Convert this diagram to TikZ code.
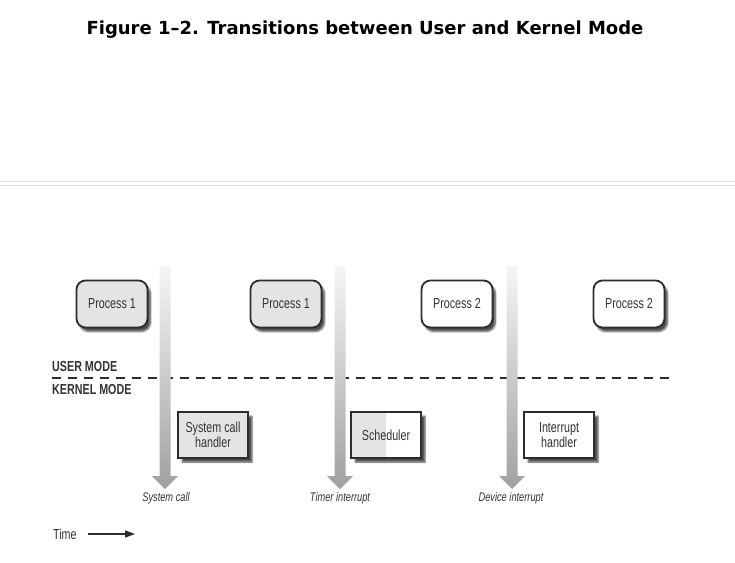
\documentclass[tikz,border=0pt]{standalone}
\usepackage{fontspec}
\usepackage{tikz}
\usetikzlibrary{positioning, arrows.meta, shadows.blur}
\newfontfamily\titlefont{DejaVu Sans}
\newfontfamily\condfont{Liberation Sans}[FakeStretch=0.74]
\definecolor{boxline}{RGB}{45,45,45}
\definecolor{boxgray}{RGB}{228,228,228}
\definecolor{arrowgray}{RGB}{160,160,160}
\tikzset{
  procbox/.style={
    rectangle, rounded corners=9pt, draw=boxline, line width=1.8pt,
    minimum width=71pt, minimum height=47pt, inner sep=2pt,
    font=\condfont\fontsize{14.5}{16}\selectfont, text=black!80,
    blur shadow={shadow xshift=3pt, shadow yshift=-4pt, shadow blur steps=6, shadow opacity=70}
  },
  kernbox/.style={
    rectangle, draw=boxline, line width=1.6pt,
    minimum width=70pt, minimum height=46pt, inner sep=2pt, align=center,
    font=\condfont\fontsize{14.5}{13.5}\selectfont, text=black!80,
    blur shadow={shadow xshift=4pt, shadow yshift=-4pt, shadow blur steps=4, shadow opacity=70}
  },
  modelabel/.style={anchor=west, inner sep=0pt, font=\condfont\bfseries\fontsize{14.5}{14}\selectfont, text=black!80},
  eventlabel/.style={inner sep=0pt, font=\condfont\itshape\fontsize{12.5}{12}\selectfont, text=black!80},
  bigarrow/.style={top color=arrowgray!10, bottom color=arrowgray},
}
\begin{document}
\begin{tikzpicture}[x=1pt, y=-1pt]
  \useasboundingbox (0,0) rectangle (735,562);
  \node[font=\titlefont\bfseries\fontsize{18}{18}\selectfont] (title) at (365,30)
    {Figure 1\textendash 2. Transitions between User and Kernel Mode};
  % page separator
  \draw[gray!25, line width=0.8pt] (0,181) -- (735,181);
  \draw[gray!25, line width=0.8pt] (0,185) -- (735,185);

  % mode boundary
  \node[modelabel] (user) at (52,367) {USER MODE};
  \node[modelabel] (kernel) at (52,390) {KERNEL MODE};
  \coordinate (dashL) at (52,378);
  \coordinate (dashR) at (669,378);
  \draw[boxline, line width=1.8pt, dash pattern=on 9pt off 7pt] (dashL) -- (dashR);

  % transitions
  \foreach \x in {165,340,512}
    \shade[bigarrow] (\x-5.5,266) -- (\x+5.5,266) -- (\x+5.5,476) -- (\x+13,476)
      -- (\x,489) -- (\x-13,476) -- (\x-5.5,476) -- cycle;
  \node[eventlabel] (syscall) at (166,498) {System call};
  \node[eventlabel] (timer) at (340,498) {Timer interrupt};
  \node[eventlabel] (device) at (511,498) {Device interrupt};

  % processes
  \node[procbox, fill=boxgray] (P1a) at (112,304) {Process 1};
  \node[procbox, fill=boxgray] (P1b) at (286,304) {Process 1};
  \node[procbox, fill=white] (P2a) at (457,304) {Process 2};
  \node[procbox, fill=white] (P2b) at (629,304) {Process 2};

  % kernel handlers
  \node[kernbox, fill=boxgray] (SCH) at (213,435) {System call\\handler};
  \node[kernbox, fill=white, path picture={
      \fill[boxgray] (path picture bounding box.north west) rectangle (path picture bounding box.south);
    }] (SCHED) at (386,435) {Scheduler};
  \node[kernbox, fill=white] (IH) at (559,435) {Interrupt\\handler};

  % time axis
  \node[anchor=west, inner sep=0pt, font=\condfont\fontsize{14.5}{14}\selectfont, text=black!80] (time) at (53,534) {Time};
  \coordinate (timeEnd) at (135,534);
  \draw[boxline, line width=1.4pt, -{Triangle[length=10pt, width=7pt]}] ([xshift=11pt]time.east) -- (timeEnd);
\end{tikzpicture}
\end{document}
